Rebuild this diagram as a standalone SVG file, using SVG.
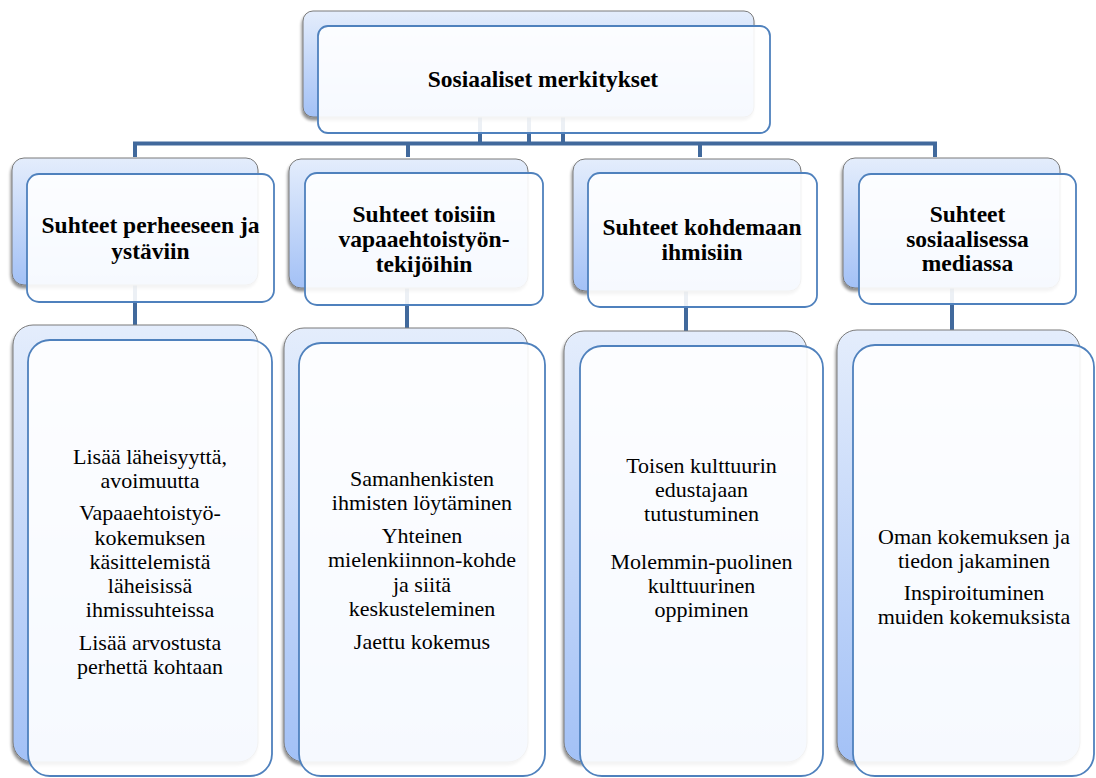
<svg xmlns="http://www.w3.org/2000/svg" width="1096" height="778" viewBox="0 0 1096 778">
<defs>
<linearGradient id="bg" x1="0" y1="0" x2="0" y2="1">
<stop offset="0" stop-color="#e4edfc"/>
<stop offset="1" stop-color="#a3c1f6"/>
</linearGradient>
<filter id="sh" x="-10%" y="-10%" width="120%" height="120%">
<feGaussianBlur in="SourceAlpha" stdDeviation="1.5"/>
<feOffset dx="-1" dy="2.5" result="b"/>
<feComponentTransfer><feFuncA type="linear" slope="0.45"/></feComponentTransfer>
<feMerge><feMergeNode/><feMergeNode in="SourceGraphic"/></feMerge>
</filter>
</defs>
<style>
.back{fill:url(#bg);stroke:#7a7a7a;stroke-width:1;filter:url(#sh)}
.front{fill:#ffffff;fill-opacity:0.9;stroke:#4f81bd;stroke-width:1.8}
.conn{fill:none;stroke:#41699c;stroke-width:4}
text{font-family:'Liberation Serif','Times New Roman',serif;fill:#000;text-anchor:middle}
.h{font-weight:bold;font-size:23.5px}
.t{font-size:22px}
</style>
<rect width="1096" height="778" fill="#ffffff"/>
<g id="connectors">
<path class="conn" d="M480,117 V143.5 M529,117 V143.5 M563,117 V143.5"/>
<path class="conn" d="M135,157 V143.5 H935 V157"/>
<path class="conn" d="M408,143.5 V157 M700,143.5 V157"/>
<path class="conn" d="M135,285 V326 M407,288 V329 M686,291 V332 M952,288 V331"/>
</g>
<g id="n0">
<rect class="back" x="303" y="11" width="451" height="106" rx="10"/>
<rect class="front" x="318" y="26" width="452" height="107" rx="10"/>
<text class="h" x="543" y="87">Sosiaaliset merkitykset</text>
</g>
<g id="n1">
<rect class="back" x="12" y="158" width="246" height="127" rx="12"/>
<rect class="front" x="27" y="174" width="247" height="128" rx="12"/>
<text class="h" x="150.5" y="233">Suhteet perheeseen ja</text>
<text class="h" x="150.5" y="259">ystäviin</text>
</g>
<g id="n2">
<rect class="back" x="289" y="159" width="239" height="129" rx="12"/>
<rect class="front" x="305" y="173" width="238" height="132" rx="12"/>
<text class="h" x="424" y="222">Suhteet toisiin</text>
<text class="h" x="424" y="247">vapaaehtoistyön-</text>
<text class="h" x="424" y="272">tekijöihin</text>
</g>
<g id="n3">
<rect class="back" x="573" y="159" width="228" height="132" rx="12"/>
<rect class="front" x="588" y="173" width="229" height="134" rx="12"/>
<text class="h" x="702" y="235">Suhteet kohdemaan</text>
<text class="h" x="702" y="260">ihmisiin</text>
</g>
<g id="n4">
<rect class="back" x="843" y="158" width="217" height="130" rx="12"/>
<rect class="front" x="859" y="174" width="217" height="130" rx="12"/>
<text class="h" x="967.5" y="222">Suhteet</text>
<text class="h" x="967.5" y="247">sosiaalisessa</text>
<text class="h" x="967.5" y="271">mediassa</text>
</g>
<g id="n5">
<rect class="back" x="13" y="325" width="245" height="437" rx="20"/>
<rect class="front" x="28" y="340" width="244" height="436" rx="22"/>
<text class="t" x="150" y="464">Lisää läheisyyttä,</text>
<text class="t" x="150" y="488">avoimuutta</text>
<text class="t" x="150" y="520">Vapaaehtoistyö-</text>
<text class="t" x="150" y="545">kokemuksen</text>
<text class="t" x="150" y="569">käsittelemistä</text>
<text class="t" x="150" y="593">läheisissä</text>
<text class="t" x="150" y="617">ihmissuhteissa</text>
<text class="t" x="150" y="650">Lisää arvostusta</text>
<text class="t" x="150" y="674">perhettä kohtaan</text>
</g>
<g id="n6">
<rect class="back" x="284" y="328" width="244" height="434" rx="20"/>
<rect class="front" x="299" y="343" width="246" height="433" rx="22"/>
<text class="t" x="422" y="486">Samanhenkisten</text>
<text class="t" x="422" y="510">ihmisten löytäminen</text>
<text class="t" x="422" y="543">Yhteinen</text>
<text class="t" x="422" y="567">mielenkiinnon-kohde</text>
<text class="t" x="422" y="592">ja siitä</text>
<text class="t" x="422" y="616">keskusteleminen</text>
<text class="t" x="422" y="649">Jaettu kokemus</text>
</g>
<g id="n7">
<rect class="back" x="564" y="331" width="243" height="431" rx="20"/>
<rect class="front" x="580" y="346" width="243" height="430" rx="22"/>
<text class="t" x="701.5" y="473">Toisen kulttuurin</text>
<text class="t" x="701.5" y="497">edustajaan</text>
<text class="t" x="701.5" y="521">tutustuminen</text>
<text class="t" x="701.5" y="569">Molemmin-puolinen</text>
<text class="t" x="701.5" y="593">kulttuurinen</text>
<text class="t" x="701.5" y="617">oppiminen</text>
</g>
<g id="n8">
<rect class="back" x="837" y="330" width="243" height="432" rx="20"/>
<rect class="front" x="853" y="345" width="241" height="431" rx="22"/>
<text class="t" x="974" y="544">Oman kokemuksen ja</text>
<text class="t" x="974" y="568">tiedon jakaminen</text>
<text class="t" x="974" y="600">Inspiroituminen</text>
<text class="t" x="974" y="624">muiden kokemuksista</text>
</g>
</svg>
